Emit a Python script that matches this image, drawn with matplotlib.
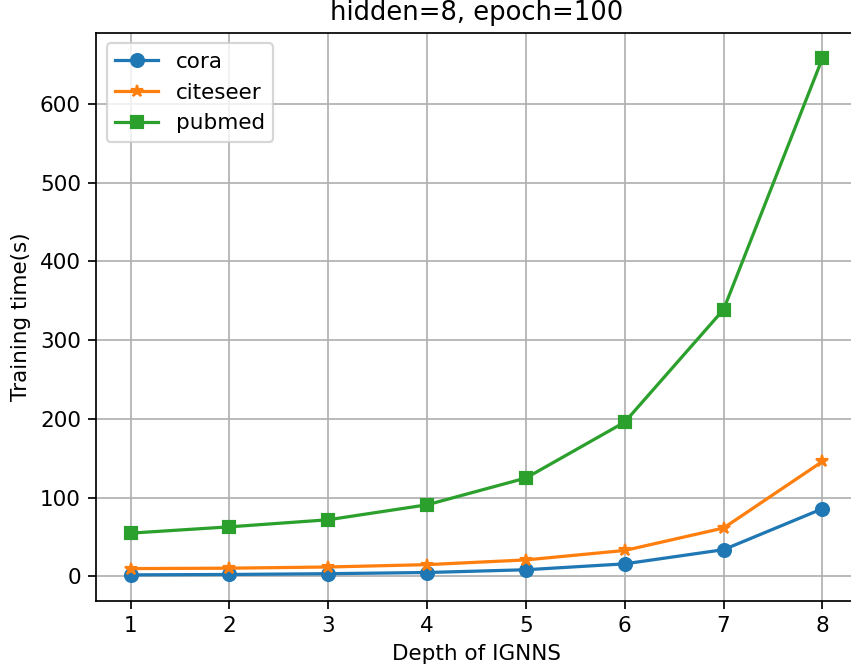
import matplotlib.pyplot as plt
import numpy as np

depth = [1, 2, 3, 4, 5, 6, 7, 8]
cora = [2, 2.5, 3.5, 5, 8.5, 16, 34, 86]
citeseer = [10, 10.5, 12, 15, 21, 33, 61.5, 146]
pubmed = [55, 63, 72, 91, 125, 196, 339, 658]

dpi = 155
fig, ax = plt.subplots(figsize=(851 / dpi, 670 / dpi), dpi=dpi)
# the original image was cropped, the right spine lies just outside it
fig.subplots_adjust(left=96 / 851, right=857 / 851, top=1 - 32.5 / 670, bottom=1 - 600.7 / 670)

ax.plot(depth, cora, marker='o', label='cora')
ax.plot(depth, citeseer, marker='*', label='citeseer')
ax.plot(depth, pubmed, marker='s', label='pubmed')

ax.set_xlabel('Depth of IGNNS')
ax.set_ylabel('Training time(s)')
ax.set_title('hidden=8, epoch=100')
ax.grid(True)
ax.legend(loc='upper left')

plt.savefig('out.png', dpi=dpi)
